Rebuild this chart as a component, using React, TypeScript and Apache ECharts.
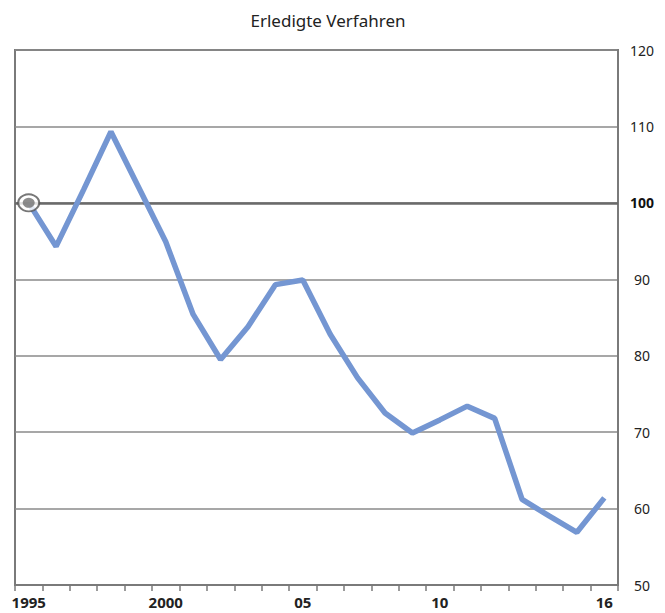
import React, { useEffect, useRef } from "react";
import * as echarts from "echarts";

const years = ["1995","1996","1997","1998","1999","2000","2001","2002","2003","2004","2005","2006","2007","2008","2009","2010","2011","2012","2013","2014","2015","2016"];
const values = [100, 94.3, 101.7, 109.3, 102.1, 94.9, 85.4, 79.5, 83.8, 89.3, 89.9, 82.8, 77.1, 72.5, 69.9, 71.6, 73.4, 71.8, 61.2, 59.0, 56.9, 61.4];
const xLabels: Record<string, string> = { "1995": "1995", "2000": "2000", "2005": "05", "2010": "10", "2016": "16" };
const yTicks = [50, 60, 70, 80, 90, 100, 110, 120];
const title = "Erledigte Verfahren";

const FONT = "'Noto Sans', 'Open Sans', sans-serif";

export default function App() {
  const ref = useRef<HTMLDivElement>(null);
  useEffect(() => {
    if (!ref.current) return;
    const chart = echarts.init(ref.current, undefined, { renderer: "svg" });
    chart.setOption({
      animation: false,
      backgroundColor: "#fff",
      title: {
        text: title,
        left: 323,
        textAlign: "center",
        top: 7,
        textStyle: { fontFamily: FONT, fontSize: 17, fontWeight: "normal", color: "#222" },
      },
      grid: {
        left: 15, right: 47, top: 50, bottom: 28,
        show: true, borderColor: "#7a7a7a", borderWidth: 2, backgroundColor: "transparent",
      },
      xAxis: {
        type: "category",
        data: years,
        boundaryGap: true,
        axisLine: { show: true, lineStyle: { color: "#7a7a7a", width: 2 } },
        axisTick: { show: true, interval: 0, length: 6, lineStyle: { color: "#7a7a7a", width: 1.5 } },
        axisLabel: {
          interval: (i: number, v: string) => v in xLabels,
          formatter: (v: string) => xLabels[v] ?? "",
          fontFamily: FONT, fontSize: 15, fontWeight: "bold", color: "#222", margin: 9,
        },
        splitLine: { show: false },
      },
      yAxis: {
        type: "value",
        position: "right",
        min: yTicks[0],
        max: yTicks[yTicks.length - 1],
        interval: 10,
        axisLine: { show: true, lineStyle: { color: "#7a7a7a", width: 2 } },
        axisTick: { show: false },
        axisLabel: {
          margin: 24,
          align: "center",
          fontFamily: FONT, fontSize: 14, color: "#222",
          formatter: (v: number) => (v === 100 ? "{b|100}" : String(v)),
          rich: { b: { fontFamily: FONT, fontSize: 14, fontWeight: "bold", color: "#111" } },
        },
        splitLine: { show: true, lineStyle: { color: "#8a8a8a", width: 1.5 } },
      },
      series: [
        {
          type: "line",
          data: values,
          symbol: "none",
          lineStyle: { color: "#7496d2", width: 5.5 },
          z: 3,
          markLine: {
            silent: true,
            symbol: "none",
            label: { show: false },
            lineStyle: { color: "#6a6a6a", width: 2.5, type: "solid" },
            data: [{ yAxis: 100 }],
            z: 2,
          },
        },
        {
          type: "scatter",
          data: [[years[0], values[0]]],
          symbol: "circle",
          symbolSize: [21, 17],
          itemStyle: { color: "#ffffff", borderColor: "#555", borderWidth: 2 },
          z: 5,
        },
        {
          type: "scatter",
          data: [[years[0], values[0]]],
          symbol: "circle",
          symbolSize: [12, 10],
          itemStyle: { color: "#707070" },
          z: 6,
        },
      ],
    });
    return () => chart.dispose();
  }, []);
  return <div ref={ref} style={{ width: 665, height: 613, position: "absolute", left: 0, top: 0 }} />;
}
